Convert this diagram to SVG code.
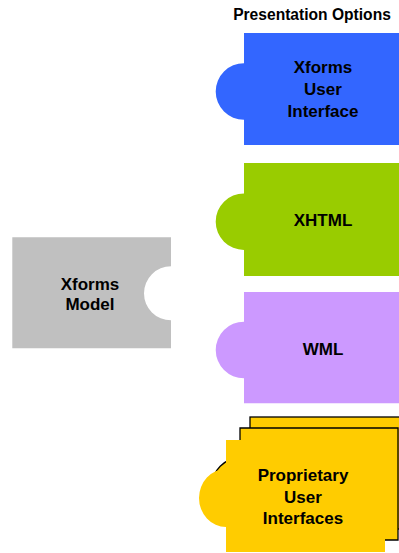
<svg xmlns="http://www.w3.org/2000/svg" width="399" height="553" viewBox="0 0 399 553">
<style>
text{font-family:"Liberation Sans",Arial,sans-serif;font-weight:bold;fill:#000;text-anchor:middle}
.t{font-size:17px}
.title{font-size:15.6px}
.outl{stroke:#000;stroke-width:1.3}
</style>
<rect width="399" height="553" fill="#fff"/>
<text class="title" x="312" y="19.5">Presentation Options</text>
<g id="xforms-ui">
<path d="M244,33 H400 V145 H244 V119.8 A28.3,28.3 0 0 1 244,63.2 Z" fill="#3366FF"/>
<text class="t" x="323" y="73">Xforms</text>
<text class="t" x="323" y="95">User</text>
<text class="t" x="323" y="117">Interface</text>
</g>
<g id="xhtml">
<path d="M244,163 H400 V276 H244 V250 A28.3,28.3 0 0 1 244,193.4 Z" fill="#99CC00"/>
<text class="t" x="323" y="225.5">XHTML</text>
</g>
<g id="xforms-model">
<path d="M12.3,237.3 H171 V266.3 A27,27 0 0 0 171,320.3 V348.3 H12.3 Z" fill="#C0C0C0"/>
<text class="t" x="90" y="290">Xforms</text>
<text class="t" x="90" y="310">Model</text>
</g>
<g id="wml">
<path d="M244,292 H400 V403.3 H244 V378.3 A28.3,28.3 0 0 1 244,321.7 Z" fill="#CC99FF"/>
<text class="t" x="323" y="355">WML</text>
</g>
<g id="proprietary">
<rect class="outl" x="250" y="417" width="160" height="112" fill="#FFCC00"/>
<path class="outl" d="M240,428 H398 V540 H240 V514 A28,28 0 0 1 240,458 Z" fill="#FFCC00"/>
<path d="M226,440 H385 V552 H226 V527 A27,29 0 0 1 226,469 Z" fill="#FFCC00"/>
<text class="t" x="303" y="481">Proprietary</text>
<text class="t" x="303" y="502.5">User</text>
<text class="t" x="303" y="524">Interfaces</text>
</g>
<g id="connectors"/>
</svg>
